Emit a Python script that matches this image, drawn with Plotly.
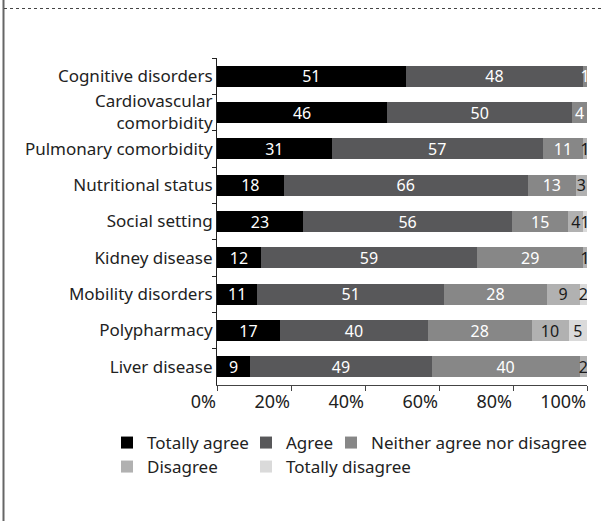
import plotly.graph_objects as go

# Survey items (top to bottom) and response shares per answer category
categories = [
    "Cognitive disorders",
    "Cardiovascular<br>comorbidity",
    "Pulmonary comorbidity",
    "Nutritional status",
    "Social setting",
    "Kidney disease",
    "Mobility disorders",
    "Polypharmacy",
    "Liver disease",
]
totally_agree = [51, 46, 31, 18, 23, 12, 11, 17, 9]
agree = [48, 50, 57, 66, 56, 59, 51, 40, 49]
neither = [1, 4, 11, 13, 15, 29, 28, 28, 40]
disagree = [0, 0, 1, 3, 4, 1, 9, 10, 2]
totally_disagree = [0, 0, 0, 0, 1, 0, 2, 5, 0]

x_ticks = [0, 20, 40, 60, 80, 100]
x_tick_labels = ["0%", "20%", "40%", "60%", "80%", "100%"]

FONT = "Noto Sans"
FS = 17

W, H = 603, 521
L, R, T, B = 217, 16, 58, 136
pw, ph = W - L - R, H - T - B


def px_x(p):
    return (p - L) / pw


def px_y(p):
    return (H - B - p) / ph


# name, values, fill, label colour, legend id, legend anchor (px x, px y)
series = [
    ("Totally agree", totally_agree, "#000000", "#ffffff", "legend", (107, 425)),
    ("Agree", agree, "#58585a", "#ffffff", "legend2", (246, 425)),
    ("Neither agree nor disagree", neither, "#878787", "#ffffff", "legend3", (331, 425)),
    ("Disagree", disagree, "#b1b1b1", "#1a1a1a", "legend4", (107, 449)),
    ("Totally disagree", totally_disagree, "#dadada", "#1a1a1a", "legend5", (246, 449)),
]

fig = go.Figure()
legends = {}
for name, vals, color, tcolor, leg, (lx, ly) in series:
    fig.add_trace(go.Bar(
        y=categories,
        x=vals,
        name=name,
        orientation="h",
        marker=dict(color=color, line=dict(width=0)),
        text=[str(v) if v else "" for v in vals],
        textposition="inside",
        insidetextanchor="middle",
        textangle=0,
        textfont=dict(family=FONT, size=16, color=tcolor),
        legend=leg,
        showlegend=True,
    ))
    legends[leg] = dict(
        orientation="h",
        x=px_x(lx),
        xanchor="left",
        y=px_y(ly),
        yanchor="top",
        font=dict(size=FS, color="#222222"),
        bgcolor="rgba(0,0,0,0)",
        itemclick=False,
        itemdoubleclick=False,
    )

fig.update_layout(
    width=W,
    height=H,
    showlegend=True,
    margin=dict(l=L, r=R, t=T, b=B, autoexpand=False),
    paper_bgcolor="white",
    plot_bgcolor="white",
    barmode="stack",
    barnorm="percent",
    bargap=0.42,
    font=dict(family=FONT, size=FS, color="#222222"),
    uniformtext=dict(minsize=15, mode="show"),
    xaxis=dict(
        range=[0, 100],
        tickvals=x_ticks,
        ticktext=x_tick_labels,
        ticks="outside",
        ticklen=5,
        tickcolor="#444444",
        ticklabelposition="outside left",
        showline=True,
        linecolor="#444444",
        linewidth=1,
        showgrid=False,
        zeroline=False,
        tickfont=dict(size=18, color="#222222"),
        fixedrange=True,
    ),
    yaxis=dict(
        autorange="reversed",
        ticks="outside",
        tickson="boundaries",
        ticklen=4,
        tickcolor="#222222",
        showline=True,
        linecolor="#222222",
        linewidth=1,
        showgrid=False,
        tickfont=dict(size=FS, color="#222222"),
        fixedrange=True,
    ),
    shapes=[
        # panel frame: solid left rule and dotted top rule
        dict(type="line", xref="paper", yref="paper",
             x0=px_x(3.5), x1=px_x(3.5), y0=px_y(0), y1=px_y(H),
             line=dict(color="#666666", width=2)),
        dict(type="line", xref="paper", yref="paper",
             x0=px_x(4), x1=px_x(W), y0=px_y(8.5), y1=px_y(8.5),
             line=dict(color="#444444", width=1, dash="dot")),
    ],
    **legends,
)

fig.write_html("out.html")
